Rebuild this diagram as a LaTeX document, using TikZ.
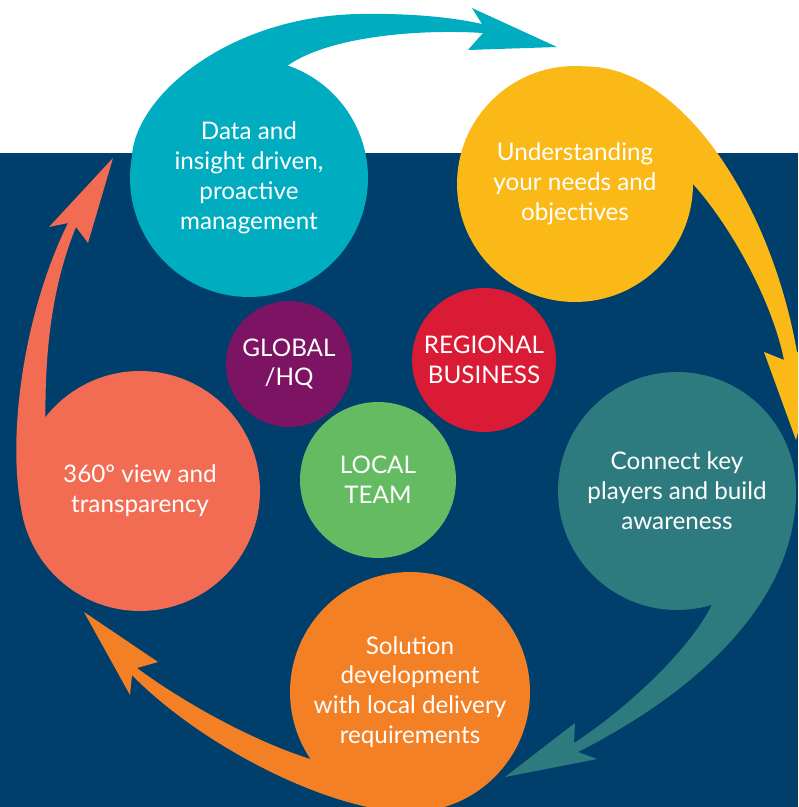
\documentclass[tikz,border=0pt]{standalone}
\usepackage{fontspec}
\setmainfont{Lato}
\usepackage{tikz}
\usetikzlibrary{
    positioning,
    backgrounds
}
\definecolor{bgNavy}{RGB}{0, 63, 107}
\definecolor{dataTeal}{RGB}{0, 173, 192}
\definecolor{needsYellow}{RGB}{251, 185, 23}
\definecolor{connectTeal}{RGB}{46, 123, 127}
\definecolor{solutionOrange}{RGB}{244, 128, 38}
\definecolor{viewCoral}{RGB}{242, 108, 83}
\definecolor{globalPurple}{RGB}{125, 19, 99}
\definecolor{regionalRed}{RGB}{218, 27, 53}
\definecolor{localGreen}{RGB}{101, 187, 98}
\tikzset{
    bubble/.style={circle, inner sep=0pt, outer sep=0pt, align=center,
        text=white, font=\fontsize{13.8}{17}\selectfont}
}

\begin{document}
\begin{tikzpicture}[x=0.02cm, y=-0.02cm]
            % 画面枠
            \useasboundingbox (0,0) rectangle (798,807);

            % 大きい円
            \node[bubble, fill=dataTeal, minimum size=4.76cm] (data) at (249,178)
                {Data and\\insight driven,\\proactive\\management};
            \node[bubble, fill=needsYellow, minimum size=4.72cm] (needs) at (575,184)
                {Understanding\\your needs and\\objectives};
            \node[bubble, fill=connectTeal, minimum size=4.76cm] (connect) at (677,491)
                {Connect key\\players and build\\awareness};
            \node[bubble, fill=solutionOrange, minimum size=4.8cm] (solution) at (410,692)
                {Solution\\development\\with local delivery\\requirements};
            \node[bubble, fill=viewCoral, minimum size=4.8cm] (view) at (140,491)
                {360º view and\\transparency};

            % 中央の円
            \node[bubble, fill=globalPurple, minimum size=2.52cm] (global) at (289,364)
                {GLOBAL\\/HQ};
            \node[bubble, fill=regionalRed, minimum size=2.88cm] (regional) at (484,360)
                {REGIONAL\\BUSINESS};
            \node[bubble, fill=localGreen, minimum size=3.12cm] (local) at (378,480)
                {LOCAL\\TEAM};

            \begin{pgfonlayer}{background}
                \clip (0,0) rectangle (798,807);
                % 背景
                \fill[white] (0,0) rectangle (798,153);
                \fill[bgNavy] (0,153) rectangle (798,807);

                % 矢印
                \fill[dataTeal] (data.170) .. controls (135,95) and (230,16) .. (360,14)
                    .. controls (420,13) and (460,19) .. (482,24) -- (472,8) -- (557,47)
                    -- (468,50) -- (483,33) .. controls (420,29) and (330,36) .. (data.71) -- cycle;
                \fill[needsYellow] (needs.85) .. controls (680,66) and (770,200) .. (797,352)
                    -- (818,356) -- (796,440) -- (764,352) -- (784,360)
                    .. controls (772,300) and (730,225) .. (needs.0) -- cycle;
                \fill[connectTeal] (connect.0) .. controls (796,600) and (700,690) .. (578,752)
                    -- (597,759) -- (505,777) -- (575,723) -- (574,743)
                    .. controls (625,710) and (690,650) .. (connect.-73) -- cycle;
                \fill[solutionOrange] (solution.270) .. controls (330,812) and (200,745) .. (132,675)
                    -- (130,695) -- (84,612) -- (158,662) -- (137,668)
                    .. controls (180,700) and (250,740) .. (solution.214) -- cycle;
                \fill[viewCoral] (view.200) .. controls (3,460) and (20,320) .. (68,223)
                    -- (49,227) -- (113,158) -- (88,243) -- (76,227)
                    .. controls (50,290) and (45,360) .. (view.142) -- cycle;
            \end{pgfonlayer}
\end{tikzpicture}
\end{document}
